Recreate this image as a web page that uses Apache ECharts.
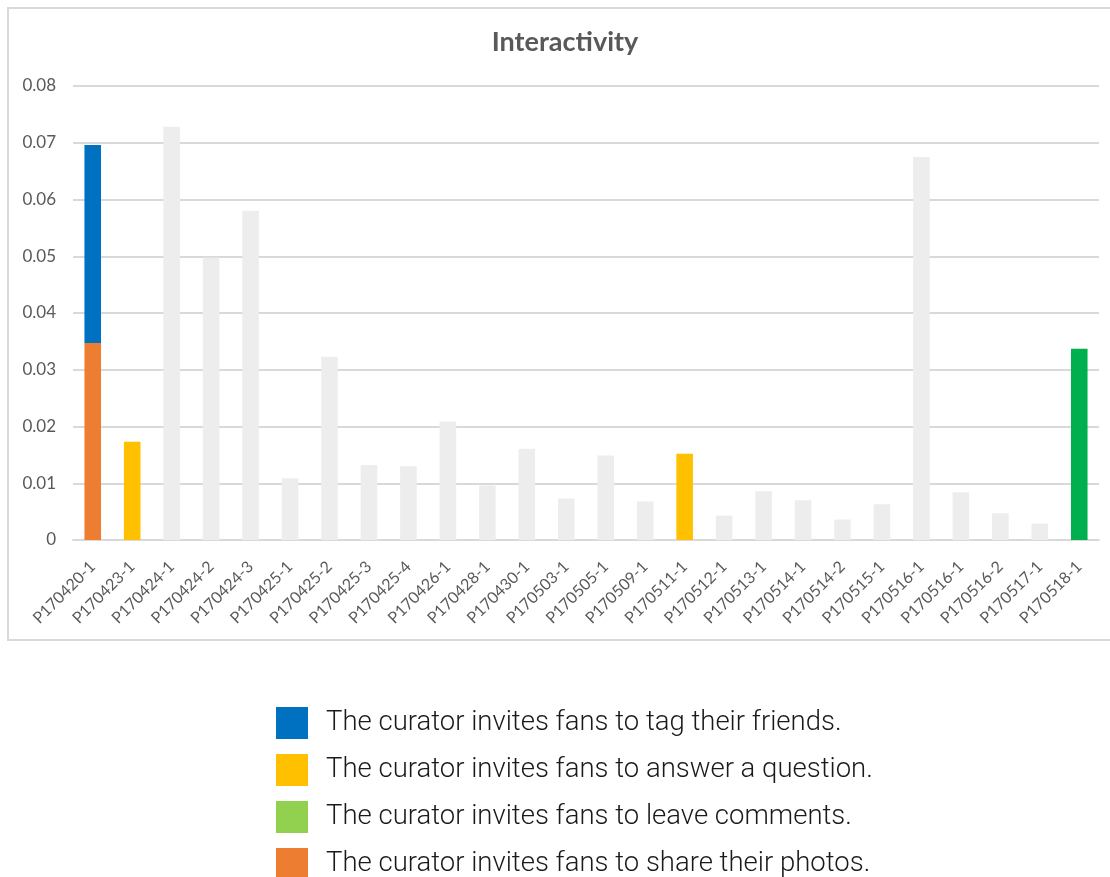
<!DOCTYPE html>
<html>
<head>
<meta charset="utf-8">
<script src="https://cdn.jsdelivr.net/npm/echarts@6/dist/echarts.min.js"></script>
<style>
  html, body { margin: 0; padding: 0; background: #ffffff; }
  #chart { width: 1110px; height: 877px; }
</style>
</head>
<body>
<div id="chart"></div>
<script>
// Post IDs along the x axis (P170516-1 appears twice in the source data)
const categories = [
  'P170420-1', 'P170423-1', 'P170424-1', 'P170424-2', 'P170424-3',
  'P170425-1', 'P170425-2', 'P170425-3', 'P170425-4', 'P170426-1',
  'P170428-1', 'P170430-1', 'P170503-1', 'P170505-1', 'P170509-1',
  'P170511-1', 'P170512-1', 'P170513-1', 'P170514-1', 'P170514-2',
  'P170515-1', 'P170516-1', 'P170516-1', 'P170516-2', 'P170517-1',
  'P170518-1'
];

// Posts without a curator invitation (grey bars)
const otherPosts = [
  null, null, 0.0728, 0.0498, 0.0580,
  0.0109, 0.0323, 0.0132, 0.0130, 0.0209,
  0.0096, 0.0161, 0.0073, 0.0149, 0.0068,
  null, 0.0043, 0.0086, 0.0070, 0.0036,
  0.0063, 0.0675, 0.0084, 0.0047, 0.0029,
  null
];

// Posts with a curator invitation, by kind
const sharePhotos = [0.0347].concat(new Array(25).fill(null));
const tagFriends = [0.0349].concat(new Array(25).fill(null));
const answerQuestion = categories.map(() => null);
answerQuestion[1] = 0.0173;
answerQuestion[15] = 0.0152;
const leaveComments = categories.map(() => null);
leaveComments[25] = 0.0337;

const yTicks = { min: 0, max: 0.08, step: 0.01 };

const LEGEND_TAG = 'The curator invites fans to tag their friends.';
const LEGEND_ANSWER = 'The curator invites fans to answer a question.';
const LEGEND_COMMENT = 'The curator invites fans to leave comments.';
const LEGEND_PHOTO = 'The curator invites fans to share their photos.';

const chart = echarts.init(document.getElementById('chart'), null, { renderer: 'canvas' });

const barBase = {
  type: 'bar',
  stack: 'total',
  barWidth: '42%',
  emphasis: { disabled: true }
};

chart.setOption({
  animation: false,
  backgroundColor: '#ffffff',
  title: {
    text: 'Interactivity',
    left: 560,
    top: 24,
    textAlign: 'center',
    textStyle: {
      fontFamily: 'Lato',
      fontWeight: 'bold',
      fontSize: 27,
      color: '#595959'
    }
  },
  graphic: [{
    type: 'rect',
    silent: true,
    z: -1,
    shape: { x: 8, y: 8, width: 1112, height: 632 },
    style: { fill: 'none', stroke: '#d9d9d9', lineWidth: 2 }
  }],
  legend: {
    orient: 'vertical',
    left: 271,
    top: 702,
    height: 260,
    itemWidth: 32,
    itemHeight: 32,
    itemGap: 15,
    icon: 'rect',
    selectedMode: false,
    textStyle: {
      fontFamily: 'Roboto',
      fontWeight: 300,
      fontSize: 27.5,
      color: '#1a1a1a',
      padding: [0, 0, 0, 13]
    },
    data: [
      { name: LEGEND_TAG, itemStyle: { color: '#0070C0' } },
      { name: LEGEND_ANSWER, itemStyle: { color: '#FFC000' } },
      { name: LEGEND_COMMENT, itemStyle: { color: '#92D050' } },
      { name: LEGEND_PHOTO, itemStyle: { color: '#ED7D31' } }
    ]
  },
  grid: {
    left: 73,
    right: 11,
    top: 86,
    bottom: 337,
    containLabel: false
  },
  xAxis: {
    type: 'category',
    data: categories,
    axisLine: { show: true, lineStyle: { color: '#d9d9d9', width: 2 } },
    axisTick: { show: false },
    axisLabel: {
      interval: 0,
      rotate: 45,
      margin: 24,
      fontFamily: 'Lato',
      fontSize: 16,
      color: '#595959'
    },
    splitLine: { show: false }
  },
  yAxis: {
    type: 'value',
    min: yTicks.min,
    max: yTicks.max,
    interval: yTicks.step,
    axisLine: { show: false },
    axisTick: { show: false },
    axisLabel: {
      margin: 17,
      fontFamily: 'Lato',
      fontSize: 17,
      color: '#595959',
      formatter: v => (v === 0 ? '0' : v.toFixed(2))
    },
    splitLine: { show: true, lineStyle: { color: '#d9d9d9', width: 2 } }
  },
  series: [
    Object.assign({}, barBase, {
      name: 'other',
      data: otherPosts,
      itemStyle: { color: '#ededed' }
    }),
    Object.assign({}, barBase, {
      name: LEGEND_PHOTO,
      data: sharePhotos,
      itemStyle: { color: '#ED7D31' }
    }),
    Object.assign({}, barBase, {
      name: LEGEND_TAG,
      data: tagFriends,
      itemStyle: { color: '#0070C0' }
    }),
    Object.assign({}, barBase, {
      name: LEGEND_ANSWER,
      data: answerQuestion,
      itemStyle: { color: '#FFC000' }
    }),
    Object.assign({}, barBase, {
      name: LEGEND_COMMENT,
      data: leaveComments,
      itemStyle: { color: '#00B050' }
    })
  ]
});
</script>
</body>
</html>
